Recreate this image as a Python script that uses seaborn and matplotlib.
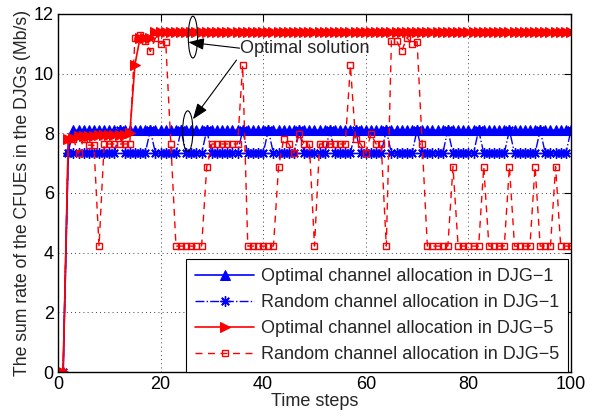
import numpy as np
import pandas as pd
import matplotlib
matplotlib.use('Agg')
import matplotlib.pyplot as plt
from matplotlib.patches import Ellipse
import seaborn as sns

sns.set_theme(style='white')
plt.rcParams['font.family'] = ['Liberation Sans', 'DejaVu Sans']
plt.rcParams['xtick.direction'] = 'in'
plt.rcParams['ytick.direction'] = 'in'
plt.rcParams['axes.edgecolor'] = 'black'

time_steps = list(range(1, 101))

opt_djg1 = [0, 7.4, 8.1, 8.1, 8.1, 8.1, 8.1, 8.1, 8.1, 8.1,
            8.1, 8.1, 8.1, 8.1, 8.1, 8.1, 8.1, 8.1, 8.1, 8.1,
            8.1, 8.1, 8.1, 8.1, 8.1, 8.1, 8.1, 8.1, 8.1, 8.1,
            8.1, 8.1, 8.1, 8.1, 8.1, 8.1, 8.1, 8.1, 8.1, 8.1,
            8.1, 8.1, 8.1, 8.1, 8.1, 8.1, 8.1, 8.1, 8.1, 8.1,
            8.1, 8.1, 8.1, 8.1, 8.1, 8.1, 8.1, 8.1, 8.1, 8.1,
            8.1, 8.1, 8.1, 8.1, 8.1, 8.1, 8.1, 8.1, 8.1, 8.1,
            8.1, 8.1, 8.1, 8.1, 8.1, 8.1, 8.1, 8.1, 8.1, 8.1,
            8.1, 8.1, 8.1, 8.1, 8.1, 8.1, 8.1, 8.1, 8.1, 8.1,
            8.1, 8.1, 8.1, 8.1, 8.1, 8.1, 8.1, 8.1, 8.1, 8.1]

rnd_djg1 = [0, 7.33, 7.33, 7.33, 7.33, 7.33, 7.33, 7.33, 7.33, 7.33,
            7.33, 8.1, 7.33, 7.33, 7.33, 7.33, 7.33, 8.1, 7.33, 7.33,
            7.33, 7.33, 7.33, 8.1, 7.33, 7.33, 7.33, 7.33, 8.1, 7.33,
            7.33, 7.33, 7.33, 7.33, 7.33, 8.1, 7.33, 7.33, 7.33, 7.33,
            8.1, 7.33, 7.33, 7.33, 7.33, 7.33, 8.1, 7.33, 7.33, 7.33,
            7.33, 7.33, 8.1, 7.33, 7.33, 7.33, 7.33, 8.1, 7.33, 7.33,
            7.33, 7.33, 7.33, 8.1, 7.33, 7.33, 7.33, 7.33, 7.33, 8.1,
            7.33, 7.33, 7.33, 7.33, 7.33, 8.1, 7.33, 7.33, 7.33, 7.33,
            7.33, 8.1, 7.33, 7.33, 7.33, 7.33, 7.33, 8.1, 7.33, 7.33,
            7.33, 7.33, 7.33, 8.1, 7.33, 7.33, 7.33, 7.33, 7.33, 8.1]

opt_djg5 = [0, 7.8, 7.85, 7.9, 7.9, 7.9, 7.9, 7.95, 7.95, 7.95,
            7.95, 7.95, 7.95, 8.0, 10.3, 11.2, 11.2, 11.2, 11.4, 11.4,
            11.4, 11.4, 11.4, 11.4, 11.4, 11.4, 11.4, 11.4, 11.4, 11.4,
            11.4, 11.4, 11.4, 11.4, 11.4, 11.4, 11.4, 11.4, 11.4, 11.4,
            11.4, 11.4, 11.4, 11.4, 11.4, 11.4, 11.4, 11.4, 11.4, 11.4,
            11.4, 11.4, 11.4, 11.4, 11.4, 11.4, 11.4, 11.4, 11.4, 11.4,
            11.4, 11.4, 11.4, 11.4, 11.4, 11.4, 11.4, 11.4, 11.4, 11.4,
            11.4, 11.4, 11.4, 11.4, 11.4, 11.4, 11.4, 11.4, 11.4, 11.4,
            11.4, 11.4, 11.4, 11.4, 11.4, 11.4, 11.4, 11.4, 11.4, 11.4,
            11.4, 11.4, 11.4, 11.4, 11.4, 11.4, 11.4, 11.4, 11.4, 11.4]

rnd_djg5 = [0, 7.8, 7.8, 7.33, 7.8, 7.6, 7.6, 4.22, 7.64, 7.64,
            7.64, 7.64, 7.64, 7.64, 11.2, 11.3, 11.1, 10.74, 11.2, 11.0,
            11.07, 7.64, 4.22, 4.22, 4.22, 4.22, 4.22, 4.22, 6.88, 7.64,
            7.64, 7.64, 7.64, 7.64, 7.64, 10.27, 4.22, 4.22, 4.22, 4.22,
            4.22, 4.22, 6.88, 7.8, 7.64, 7.33, 7.97, 7.64, 7.64, 4.22,
            7.64, 7.64, 7.64, 7.64, 7.64, 7.64, 10.27, 7.8, 7.64, 7.33,
            7.97, 7.64, 7.64, 4.22, 11.1, 11.1, 10.74, 11.2, 11.0, 11.07,
            7.64, 4.22, 4.22, 4.22, 4.22, 4.22, 6.88, 4.22, 4.22, 4.22,
            4.22, 4.22, 6.88, 4.22, 4.22, 4.22, 4.22, 6.88, 4.22, 4.22,
            4.22, 4.22, 6.88, 4.22, 4.22, 4.22, 6.88, 4.22, 4.22, 4.22]

labels = ['Optimal channel allocation in DJG\u22121',
          'Random channel allocation in DJG\u22121',
          'Optimal channel allocation in DJG\u22125',
          'Random channel allocation in DJG\u22125']

fs = 13

fig = plt.figure(figsize=(6.06, 4.19), dpi=100)
ax = fig.add_axes([0.0957, 0.112, 0.8465, 0.855])

sns.lineplot(x=time_steps, y=opt_djg1, ax=ax, color='blue', linewidth=1.2,
             marker='^', markersize=7.5, markeredgecolor='blue', markerfacecolor='blue',
             label=labels[0])
sns.lineplot(x=time_steps, y=rnd_djg1, ax=ax, color='blue', linewidth=1.0, linestyle='-.',
             marker=(8, 2, 0), markersize=7.5, markeredgecolor='blue', markeredgewidth=1.0,
             label=labels[1])
sns.lineplot(x=time_steps, y=opt_djg5, ax=ax, color='red', linewidth=1.2,
             marker='>', markersize=7.5, markeredgecolor='red', markerfacecolor='red',
             label=labels[2])
sns.lineplot(x=time_steps, y=rnd_djg5, ax=ax, color='red', linewidth=1.0, linestyle=(0, (5, 4)),
             marker='s', markersize=5, markeredgecolor='red', markerfacecolor='none',
             markeredgewidth=1.0, label=labels[3])

ax.set_xlim(0, 100)
ax.set_ylim(0, 12)
ax.set_xticks([0, 20, 40, 60, 80, 100])
ax.set_yticks([0, 2, 4, 6, 8, 10, 12])
ax.grid(True, color='black', linestyle=(0, (1, 4)), linewidth=0.6)
ax.tick_params(labelsize=fs, top=True, right=True, length=5, width=0.8, colors='black', pad=3)
for s in ax.spines.values():
    s.set_linewidth(1.0)
ax.set_xlabel('Time steps', fontsize=fs, labelpad=0)
ax.set_ylabel('The sum rate of the CFUEs in the DJGs (Mb/s)', fontsize=12.7, labelpad=2)

# the "Optimal solution" note with two ellipses
ax.add_patch(Ellipse((26.3, 11.22), 1.8, 1.4, fill=False, edgecolor='black', linewidth=0.8, zorder=5))
ax.add_patch(Ellipse((25.3, 8.07), 2.0, 1.36, fill=False, edgecolor='black', linewidth=0.8, zorder=5))
ax.text(35.5, 10.85, 'Optimal solution', fontsize=fs, ha='left', va='center', zorder=6)
ax.annotate('', xy=(25.4, 11.05), xytext=(35.4, 10.85),
            arrowprops=dict(arrowstyle='-|>,head_length=0.8,head_width=0.3', color='black',
                            lw=0.8, shrinkA=0, shrinkB=0), zorder=6)
ax.annotate('', xy=(26.3, 8.47), xytext=(34.8, 10.45),
            arrowprops=dict(arrowstyle='-|>,head_length=0.8,head_width=0.3', color='black',
                            lw=0.8, shrinkA=0, shrinkB=0), zorder=6)

leg = ax.legend(loc='lower right', bbox_to_anchor=(0.994, 0), borderaxespad=0, frameon=True,
                fancybox=False, edgecolor='black', framealpha=1, fontsize=fs,
                handlelength=3.3, labelspacing=0.5, borderpad=0.5, handletextpad=0.35)
leg.get_frame().set_linewidth(0.8)

fig.savefig('out.png', dpi=100)
